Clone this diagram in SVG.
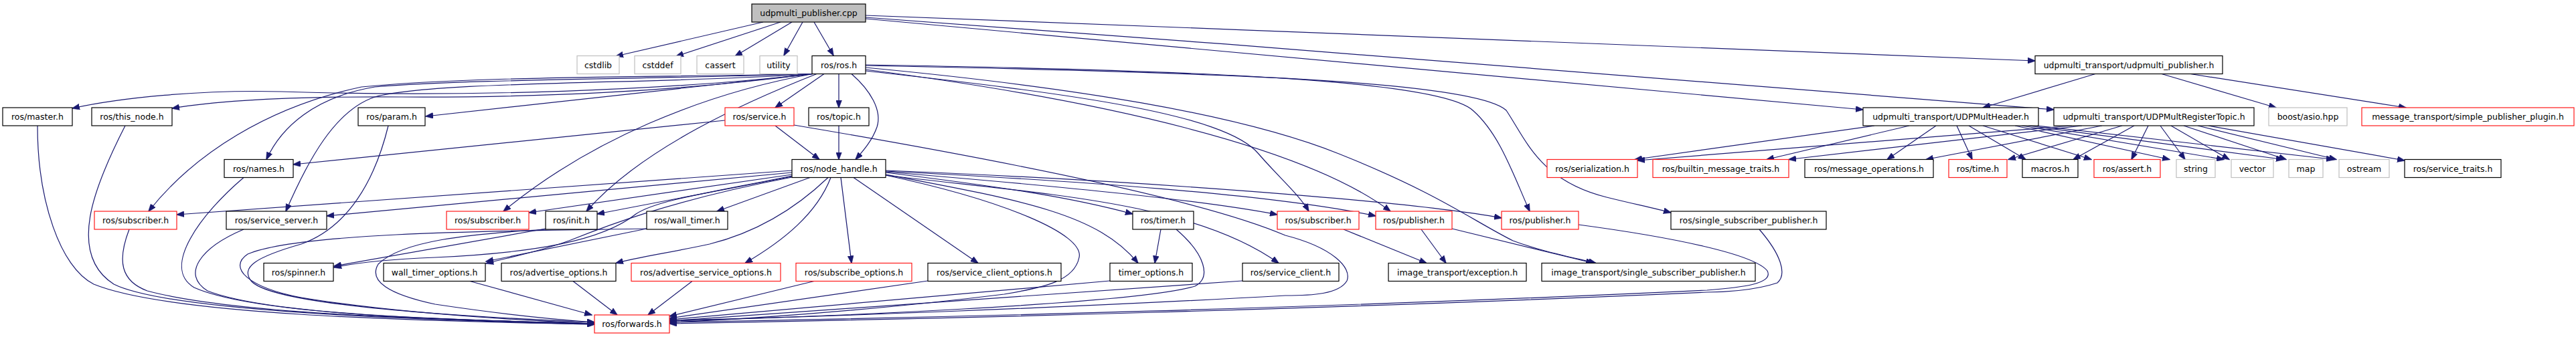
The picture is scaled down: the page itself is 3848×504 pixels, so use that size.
<svg xmlns="http://www.w3.org/2000/svg" width="3848" height="504" viewBox="0 0 3848 504">
<style>
.node rect{fill:#fff;stroke:#000;stroke-width:1.2}
.node.red rect{stroke:#ff1a1a}
.node.ext rect{stroke:#bfbfbf}
.node.main rect{fill:#bfbfbf}
.node text{font-family:"DejaVu Sans","Liberation Sans",sans-serif;font-size:12.5px;fill:#000;text-anchor:middle}
#edges path{fill:none;stroke:#191970;stroke-width:1.2;marker-end:url(#arr)}
</style>
<defs>
<marker id="arr" markerWidth="12" markerHeight="9" refX="11" refY="4.5" orient="auto" markerUnits="userSpaceOnUse"><path d="M0,0L12,4.5L0,9z" fill="#191970" stroke="#191970" stroke-width="0.5"/></marker>
</defs>
<rect width="3848" height="504" fill="#fff"/>
<g id="edges">
<path d="M1140,33L920,84"/>
<path d="M1166,33L1010,84"/>
<path d="M1183,33L1098,84"/>
<path d="M1199,33L1171,83"/>
<path d="M1216,33L1245,83"/>
<path d="M1293,23C1900,46 2700,78 3040,91"/>
<path d="M1293,26C1900,70 2600,125 3068,164"/>
<path d="M1293,28L2783,164"/>
<path d="M3130,110.5L2962,161"/>
<path d="M3229,110.5L3400,161"/>
<path d="M3272,110.5L3594,161"/>
<path d="M1253,110.5L1253,161"/>
<path d="M1231,110.5L1158,161"/>
<path d="M1272,110.5C1300,135 1318,165 1310,190C1303,210 1290,225 1278,238.5"/>
<path d="M1214,110.5L636,174"/>
<path d="M1214,110.5C1000,135 700,146 420,137C300,134 180,146 108,162"/>
<path d="M1214,110.5C1000,138 800,146 600,145C450,144 330,150 257,162"/>
<path d="M1214,110.5C1000,118 700,118 560,130C470,145 420,190 398,238.5"/>
<path d="M1214,110.5C950,116 700,114 540,130C400,160 290,230 222,316"/>
<path d="M1214,110.5C1000,126 650,120 560,145C500,165 460,240 427,316"/>
<path d="M1214,110.5C1050,140 880,210 752,316"/>
<path d="M1220,110.5C1120,150 960,220 876,316"/>
<path d="M1293,101C1600,130 1850,170 2000,230C2150,290 2200,330 2260,360C2300,375 2340,383 2384,393.5"/>
<path d="M1293,104C1650,150 1950,220 2077,316"/>
<path d="M1293,106C1600,140 1830,170 1880,230C1910,265 1940,290 1955,316"/>
<path d="M1293,97C1800,105 2150,120 2200,165C2240,200 2260,260 2285,316"/>
<path d="M1293,98C1800,108 2200,120 2250,165C2280,210 2300,270 2400,295C2440,305 2470,311 2496,318"/>
<path d="M1158,188L1224,238.5"/>
<path d="M1083,180L438,246"/>
<path d="M1186,187C1500,240 1800,300 1920,352C1990,370 2020,400 2012,420C2000,440 1960,442 1920,442C1600,460 1200,475 1000,479"/>
<path d="M1253,188L1253,238.5"/>
<path d="M580,188C560,270 520,340 450,365C380,385 360,400 375,420C400,450 600,470 888,482"/>
<path d="M56,188C56,300 90,400 140,425C250,470 600,480 888,485"/>
<path d="M187,188C140,280 100,380 170,425C250,465 600,478 888,485"/>
<path d="M364,265.5C300,320 240,400 290,430C380,470 650,478 888,484"/>
<path d="M193,343C175,390 180,420 220,435C350,470 650,478 888,484"/>
<path d="M364,343C300,370 270,410 310,435C400,470 650,478 888,484"/>
<path d="M815,342L499,398"/>
<path d="M966,342C800,345 450,345 370,380C340,400 370,430 450,445C600,470 800,480 888,484"/>
<path d="M815,343C700,350 600,360 565,395C550,420 580,440 650,455C750,470 830,478 888,482"/>
<path d="M966,342L726,391"/>
<path d="M1183,263C1050,290 980,300 950,320C900,360 800,378 650,385C580,388 530,393 499,400"/>
<path d="M1183,265C1000,300 900,340 850,360C800,378 760,385 726,394"/>
<path d="M1237,265.5C1180,320 1120,350 1060,365C1000,378 950,385 920,393.5"/>
<path d="M1241,265.5C1220,320 1170,360 1113,393.5"/>
<path d="M1256,265.5L1272,393.5"/>
<path d="M1275,265.5L1461,393.5"/>
<path d="M1323,258C1500,280 1600,295 1692,320"/>
<path d="M1323,261C1530,300 1640,320 1700,393.5"/>
<path d="M1323,262C1550,290 1780,300 1910,393.5"/>
<path d="M1323,257C1600,280 1800,300 1908,321"/>
<path d="M1323,256C1600,270 1900,290 2055,323"/>
<path d="M1323,255C1700,270 2100,300 2243,326"/>
<path d="M1183,255L264,321"/>
<path d="M1183,258L488,323"/>
<path d="M1183,261L790,318"/>
<path d="M1183,264L892,320"/>
<path d="M1210,265.5L1071,316"/>
<path d="M1323,262C1500,300 1620,350 1612,385C1605,420 1560,430 1500,440C1300,465 1100,478 1000,482"/>
<path d="M1734,343L1725,393.5"/>
<path d="M1757,343C1800,380 1810,415 1785,428C1700,455 1200,475 1000,480"/>
<path d="M702,420.5L884,471"/>
<path d="M856,420.5L922,471"/>
<path d="M1034,420.5L968,471"/>
<path d="M1216,420.5L1000,473"/>
<path d="M1386,420L1000,476"/>
<path d="M1658,420L1000,478"/>
<path d="M1856,420L1000,480"/>
<path d="M2358,336C2500,355 2620,380 2640,405C2650,425 2600,430 2550,434C2000,460 1400,475 1000,482"/>
<path d="M2628,343C2660,380 2670,410 2655,423C2620,435 2570,437 2550,437C2000,462 1400,477 1000,484"/>
<path d="M2123,343L2160,393.5"/>
<path d="M2169,342L2380,393.5"/>
<path d="M2007,343L2131,393.5"/>
<path d="M2800,188L2442,238.5"/>
<path d="M2852,188L2639,238.5"/>
<path d="M2892,188L2819,238.5"/>
<path d="M2923,188L2946,238.5"/>
<path d="M2941,188L3026,238.5"/>
<path d="M2962,188L3124,238.5"/>
<path d="M3010,188L3241,238.5"/>
<path d="M3020,188L3322,238.5"/>
<path d="M3030,188L3411,238.5"/>
<path d="M3043,188L3486,238.5"/>
<path d="M3095,188L2446,240"/>
<path d="M3110,188L2672,238.5"/>
<path d="M3140,188L2877,238.5"/>
<path d="M3170,188L3000,238.5"/>
<path d="M3188,188L3097,238.5"/>
<path d="M3209,188L3184,238.5"/>
<path d="M3227,188L3264,238.5"/>
<path d="M3243,188L3330,238.5"/>
<path d="M3262,188L3415,238.5"/>
<path d="M3283,188L3490,238.5"/>
<path d="M3299,188L3592,240"/>
</g>
<g id="n_cpp" class="node main"><rect x="1123" y="6" width="170" height="27"/><text x="1208" y="24">udpmulti_publisher.cpp</text></g>
<g id="n_cstdlib" class="node ext"><rect x="862" y="83.5" width="63" height="27"/><text x="893.5" y="101.5">cstdlib</text></g>
<g id="n_cstddef" class="node ext"><rect x="948" y="83.5" width="69" height="27"/><text x="982.5" y="101.5">cstddef</text></g>
<g id="n_cassert" class="node ext"><rect x="1041" y="83.5" width="70" height="27"/><text x="1076" y="101.5">cassert</text></g>
<g id="n_utility" class="node ext"><rect x="1135" y="83.5" width="56" height="27"/><text x="1163" y="101.5">utility</text></g>
<g id="n_ros" class="node"><rect x="1213" y="83.5" width="80" height="27"/><text x="1253" y="101.5">ros/ros.h</text></g>
<g id="n_udppub" class="node"><rect x="3040" y="83.5" width="280" height="27"/><text x="3180" y="101.5">udpmulti_transport/udpmulti_publisher.h</text></g>
<g id="n_master" class="node"><rect x="4" y="161" width="104" height="27"/><text x="56" y="179">ros/master.h</text></g>
<g id="n_thisnode" class="node"><rect x="137" y="161" width="120" height="27"/><text x="197" y="179">ros/this_node.h</text></g>
<g id="n_param" class="node"><rect x="535" y="161" width="100" height="27"/><text x="585" y="179">ros/param.h</text></g>
<g id="n_service" class="node red"><rect x="1083" y="161" width="103" height="27"/><text x="1134.5" y="179">ros/service.h</text></g>
<g id="n_topic" class="node"><rect x="1208" y="161" width="90" height="27"/><text x="1253" y="179">ros/topic.h</text></g>
<g id="n_header" class="node"><rect x="2783" y="161" width="262" height="27"/><text x="2914" y="179">udpmulti_transport/UDPMultHeader.h</text></g>
<g id="n_regtopic" class="node"><rect x="3068" y="161" width="299" height="27"/><text x="3217.5" y="179">udpmulti_transport/UDPMultRegisterTopic.h</text></g>
<g id="n_asio" class="node ext"><rect x="3389" y="161" width="117" height="27"/><text x="3447.5" y="179">boost/asio.hpp</text></g>
<g id="n_plugin" class="node red"><rect x="3528" y="161" width="317" height="27"/><text x="3686.5" y="179">message_transport/simple_publisher_plugin.h</text></g>
<g id="n_names" class="node"><rect x="335" y="238.5" width="103" height="27"/><text x="386.5" y="256.5">ros/names.h</text></g>
<g id="n_nodehandle" class="node"><rect x="1183" y="238.5" width="140" height="27"/><text x="1253" y="256.5">ros/node_handle.h</text></g>
<g id="n_serialization" class="node red"><rect x="2311" y="238.5" width="135" height="27"/><text x="2378.5" y="256.5">ros/serialization.h</text></g>
<g id="n_builtin" class="node red"><rect x="2469" y="238.5" width="203" height="27"/><text x="2570.5" y="256.5">ros/builtin_message_traits.h</text></g>
<g id="n_msgops" class="node"><rect x="2696" y="238.5" width="192" height="27"/><text x="2792" y="256.5">ros/message_operations.h</text></g>
<g id="n_time" class="node red"><rect x="2911" y="238.5" width="87" height="27"/><text x="2954.5" y="256.5">ros/time.h</text></g>
<g id="n_macros" class="node"><rect x="3021" y="238.5" width="83" height="27"/><text x="3062.5" y="256.5">macros.h</text></g>
<g id="n_assert" class="node red"><rect x="3128" y="238.5" width="99" height="27"/><text x="3177.5" y="256.5">ros/assert.h</text></g>
<g id="n_string" class="node ext"><rect x="3251" y="238.5" width="58" height="27"/><text x="3280" y="256.5">string</text></g>
<g id="n_vector" class="node ext"><rect x="3333" y="238.5" width="63" height="27"/><text x="3364.5" y="256.5">vector</text></g>
<g id="n_map" class="node ext"><rect x="3419" y="238.5" width="51" height="27"/><text x="3444.5" y="256.5">map</text></g>
<g id="n_ostream" class="node ext"><rect x="3494" y="238.5" width="75" height="27"/><text x="3531.5" y="256.5">ostream</text></g>
<g id="n_srvtraits" class="node"><rect x="3592" y="238.5" width="144" height="27"/><text x="3664" y="256.5">ros/service_traits.h</text></g>
<g id="n_sub1" class="node red"><rect x="141" y="316" width="123" height="27"/><text x="202.5" y="334">ros/subscriber.h</text></g>
<g id="n_srvserver" class="node"><rect x="338" y="316" width="150" height="27"/><text x="413" y="334">ros/service_server.h</text></g>
<g id="n_sub2" class="node red"><rect x="667" y="316" width="123" height="27"/><text x="728.5" y="334">ros/subscriber.h</text></g>
<g id="n_init" class="node"><rect x="815" y="316" width="77" height="27"/><text x="853.5" y="334">ros/init.h</text></g>
<g id="n_walltimer" class="node"><rect x="966" y="316" width="121" height="27"/><text x="1026.5" y="334">ros/wall_timer.h</text></g>
<g id="n_timer" class="node"><rect x="1692" y="316" width="91" height="27"/><text x="1737.5" y="334">ros/timer.h</text></g>
<g id="n_sub3" class="node red"><rect x="1908" y="316" width="122" height="27"/><text x="1969" y="334">ros/subscriber.h</text></g>
<g id="n_pub1" class="node red"><rect x="2055" y="316" width="114" height="27"/><text x="2112" y="334">ros/publisher.h</text></g>
<g id="n_pub2" class="node red"><rect x="2243" y="316" width="115" height="27"/><text x="2300.5" y="334">ros/publisher.h</text></g>
<g id="n_ssp" class="node"><rect x="2496" y="316" width="232" height="27"/><text x="2612" y="334">ros/single_subscriber_publisher.h</text></g>
<g id="n_spinner" class="node"><rect x="394" y="393.5" width="104" height="27"/><text x="446" y="411.5">ros/spinner.h</text></g>
<g id="n_wto" class="node"><rect x="573" y="393.5" width="152" height="27"/><text x="649" y="411.5">wall_timer_options.h</text></g>
<g id="n_advopts" class="node"><rect x="749" y="393.5" width="171" height="27"/><text x="834.5" y="411.5">ros/advertise_options.h</text></g>
<g id="n_advsrvopts" class="node red"><rect x="943" y="393.5" width="223" height="27"/><text x="1054.5" y="411.5">ros/advertise_service_options.h</text></g>
<g id="n_subopts" class="node red"><rect x="1189" y="393.5" width="173" height="27"/><text x="1275.5" y="411.5">ros/subscribe_options.h</text></g>
<g id="n_srvclientopts" class="node"><rect x="1386" y="393.5" width="199" height="27"/><text x="1485.5" y="411.5">ros/service_client_options.h</text></g>
<g id="n_timeropts" class="node"><rect x="1658" y="393.5" width="123" height="27"/><text x="1719.5" y="411.5">timer_options.h</text></g>
<g id="n_srvclient" class="node"><rect x="1856" y="393.5" width="144" height="27"/><text x="1928" y="411.5">ros/service_client.h</text></g>
<g id="n_itexc" class="node"><rect x="2074" y="393.5" width="206" height="27"/><text x="2177" y="411.5">image_transport/exception.h</text></g>
<g id="n_itssp" class="node"><rect x="2303" y="393.5" width="319" height="27"/><text x="2462.5" y="411.5">image_transport/single_subscriber_publisher.h</text></g>
<g id="n_forwards" class="node red"><rect x="888" y="471" width="112" height="27"/><text x="944" y="489">ros/forwards.h</text></g>
</svg>
